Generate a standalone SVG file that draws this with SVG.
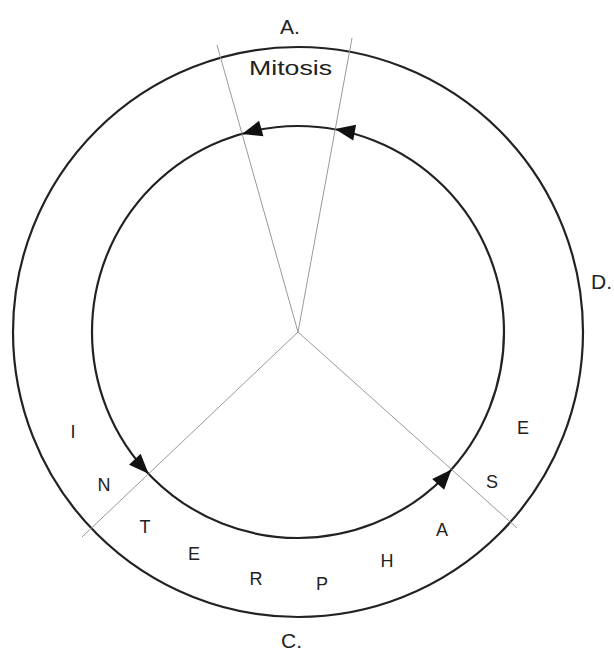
<svg xmlns="http://www.w3.org/2000/svg" width="614" height="653" viewBox="0 0 614 653">
<style>
.ring{fill:none;stroke:#222;stroke-width:2.2}
.ray{stroke:#999;stroke-width:1}
.arr{fill:#111}
.lbl{font-family:"Liberation Sans",Arial,sans-serif;font-size:21px;fill:#222}
.let{font-family:"Liberation Sans",Arial,sans-serif;font-size:18px;fill:#222;text-anchor:middle}
</style>
<rect width="614" height="653" fill="#fff"/>
<g id="rings">
<circle class="ring" cx="298" cy="332" r="285"/>
<circle class="ring" cx="298" cy="332" r="206"/>
</g>
<g id="connectors">
<line class="ray" x1="298" y1="332" x2="217" y2="45"/>
<line class="ray" x1="298" y1="332" x2="352" y2="38"/>
<line class="ray" x1="298" y1="332" x2="82" y2="537"/>
<line class="ray" x1="298" y1="332" x2="517" y2="528"/>
<polygon class="arr" points="0,0 -20,-8 -20,8" transform="translate(242,134) rotate(164.2)"/>
<polygon class="arr" points="0,0 -20,-8 -20,8" transform="translate(335,129) rotate(-169.6)"/>
<polygon class="arr" points="0,0 -20,-8 -20,8" transform="translate(148.6,473.8) rotate(46.5)"/>
<polygon class="arr" points="0,0 -20,-8 -20,8" transform="translate(451.5,469.4) rotate(-48.2)"/>
</g>
<g id="labels">
<text class="lbl" x="280" y="34">A.</text>
<text class="lbl" x="249" y="75" textLength="83" lengthAdjust="spacingAndGlyphs">Mitosis</text>
<text class="lbl" x="281" y="648">C.</text>
<text class="lbl" x="591" y="289">D.</text>
</g>
<g id="interphase">
<text class="let" x="73" y="438">I</text>
<text class="let" x="104" y="491">N</text>
<text class="let" x="145" y="533">T</text>
<text class="let" x="194" y="560">E</text>
<text class="let" x="256" y="585">R</text>
<text class="let" x="322" y="590">P</text>
<text class="let" x="387" y="567">H</text>
<text class="let" x="442" y="536">A</text>
<text class="let" x="492" y="488">S</text>
<text class="let" x="523" y="434">E</text>
</g>
</svg>
